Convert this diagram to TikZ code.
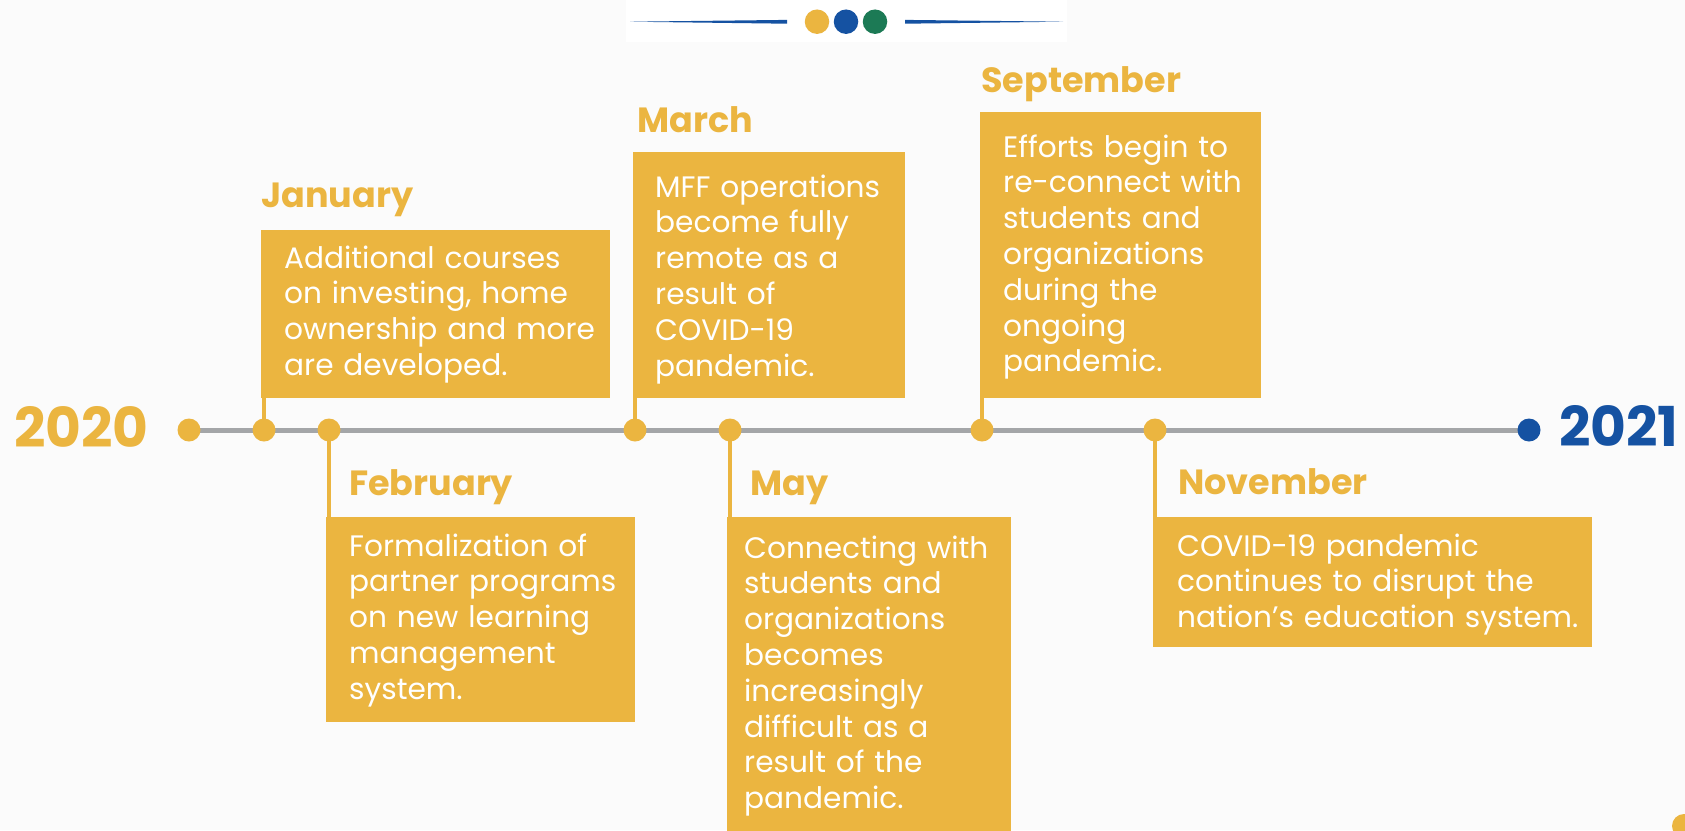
\documentclass[tikz,border=0pt]{standalone}
\usepackage{fontspec}
\setmainfont{Poppins}
\definecolor{gold}{HTML}{EBB540}
\definecolor{navy}{HTML}{1552A2}
\definecolor{mygreen}{HTML}{1C7A55}
\definecolor{linegray}{HTML}{A4A6A8}
\definecolor{pagebg}{HTML}{FBFBFB}
\pgfdeclarelayer{back}
\pgfdeclarelayer{lines}
\pgfsetlayers{back,lines,main}
\begin{document}
\begin{tikzpicture}[x=1pt,y=-1pt,
  dot/.style={circle,fill=#1,minimum size=23pt,inner sep=0pt},
  dot/.default=gold,
  evbox/.style={fill=gold,anchor=north west,inner sep=0pt,draw=none},
  evtitle/.style={anchor=base west,inner sep=0pt,text=gold,font=\fontsize{35}{40}\selectfont\bfseries},
  evbody/.style={anchor=base west,inner sep=0pt,text=white,align=left,text width=500pt,font=\fontsize{29.6}{35.8}\selectfont},
  year/.style={anchor=base west,inner sep=0pt,font=\fontsize{55}{60}\selectfont\bfseries},
  conn/.style={draw=gold,line width=4.5pt},
  deco/.style={circle,minimum size=24.5pt,inner sep=0pt,fill=#1},
]
\begin{pgfonlayer}{back}
\fill[pagebg] (0,0) rectangle (1685,830);
\end{pgfonlayer}
\useasboundingbox (0,0) rectangle (1685,830);

% top decoration
\node[fill=white,anchor=north west,minimum width=441pt,minimum height=42pt,inner sep=0pt] (decobg) at (626,0) {};
\fill[navy] (630,21.7) -- (787,19.9) -- (787,23.7) -- cycle;
\fill[navy] (905,19.9) -- (905,23.7) -- (1063,21.7) -- cycle;
\node[deco=gold] (dA) at (817,21.7) {};
\node[deco=navy] (dB) at (846,21.7) {};
\node[deco=mygreen] (dC) at (875,21.7) {};

% years
\node[year,text=gold] (y2020) at (14,447) {2020};
\node[year,text=navy] (y2021) at (1559,446) {2021};

% dots on the timeline
\node[dot] (d2020) at (189,430) {};
\node[dot] (djan) at (264,430) {};
\node[dot] (dfeb) at (329,430) {};
\node[dot] (dmar) at (635,430) {};
\node[dot] (dmay) at (730,430) {};
\node[dot] (dsep) at (982,430) {};
\node[dot] (dnov) at (1155,430) {};
\node[dot=navy] (d2021) at (1529,430) {};

% boxes
\node[evbox,minimum width=349pt,minimum height=168pt] (jbox) at (261,230) {};
\node[evbox,minimum width=309pt,minimum height=205pt] (fbox) at (326,517) {};
\node[evbox,minimum width=272pt,minimum height=246pt] (mbox) at (633,152) {};
\node[evbox,minimum width=284pt,minimum height=320pt] (ybox) at (727,517) {};
\node[evbox,minimum width=281pt,minimum height=286pt] (sbox) at (980,112) {};
\node[evbox,minimum width=439pt,minimum height=130pt] (nbox) at (1153,517) {};

% titles
\node[evtitle] (jtitle) at (261,207) {January};
\node[evtitle] (ftitle) at (349,495) {February};
\node[evtitle] (mtitle) at (637,132) {March};
\node[evtitle] (ytitle) at (750,495) {May};
\node[evtitle] (stitle) at (981,92) {September};
\node[evtitle] (ntitle) at (1178,494) {November};

% body texts
\node[evbody] (jtext) at (284,268) {Additional courses\\on investing, home\\ownership and more\\are developed.};
\node[evbody] (ftext) at (349,556) {Formalization of\\partner programs\\on new learning\\management\\system.};
\node[evbody] (mtext) at (655,197) {MFF operations\\become fully\\remote as a\\result of\\COVID-19\\pandemic.};
\node[evbody] (ytext) at (744,558) {Connecting with\\students and\\organizations\\becomes\\increasingly\\difficult as a\\result of the\\pandemic.};
\node[evbody] (stext) at (1003,157) {Efforts begin to\\re-connect with\\students and\\organizations\\during the\\ongoing\\pandemic.};
\node[evbody] (ntext) at (1177,556) {COVID-19 pandemic\\continues to disrupt the\\nation’s education system.};

\fill[gold] (1684,826) circle (12pt);

\begin{pgfonlayer}{lines}
\draw[linegray,line width=5pt] (d2020.center) -- (d2021.center);
\draw[conn] (djan.center) -- (djan.center |- jbox.south);
\draw[conn] (dfeb.center) -- (dfeb.center |- fbox.north);
\draw[conn] (dmar.center) -- (dmar.center |- mbox.south);
\draw[conn] (dmay.center) -- (dmay.center |- ybox.north);
\draw[conn] (dsep.center) -- (dsep.center |- sbox.south);
\draw[conn] (dnov.center) -- (dnov.center |- nbox.north);
\end{pgfonlayer}
\end{tikzpicture}
\end{document}
